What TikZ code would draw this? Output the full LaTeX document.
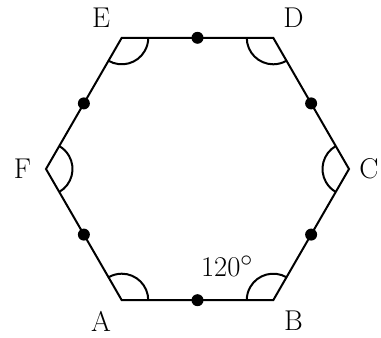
\documentclass[tikz,border=0pt]{standalone}
\usetikzlibrary{calc}
\begin{document}
\begin{tikzpicture}[x=1pt,y=1pt,line width=2pt,
  dot/.style={circle,fill=black,inner sep=0pt,minimum size=12pt},
  lbl/.style={font=\Huge,scale=1.15,inner sep=0pt}]
\useasboundingbox (0,0) rectangle (381,338);
\coordinate (A) at (121.75,37.8);
\coordinate (B) at (273.25,37.8);
\coordinate (C) at (349,169);
\coordinate (D) at (273.25,300.2);
\coordinate (E) at (121.75,300.2);
\coordinate (F) at (46,169);
\draw[line join=miter] (A)--(B)--(C)--(D)--(E)--(F)--cycle;
\draw ([shift={(0:26.5)}]A) arc[start angle=0,end angle=120,radius=26.5];
\draw ([shift={(60:26.5)}]B) arc[start angle=60,end angle=180,radius=26.5];
\draw ([shift={(120:26.5)}]C) arc[start angle=120,end angle=240,radius=26.5];
\draw ([shift={(180:26.5)}]D) arc[start angle=180,end angle=300,radius=26.5];
\draw ([shift={(240:26.5)}]E) arc[start angle=240,end angle=360,radius=26.5];
\draw ([shift={(-60:26.5)}]F) arc[start angle=-60,end angle=60,radius=26.5];
\node[dot] (mAB) at ($(A)!0.5!(B)$) {};
\node[dot] (mBC) at ($(B)!0.5!(C)$) {};
\node[dot] (mCD) at ($(C)!0.5!(D)$) {};
\node[dot] (mDE) at ($(D)!0.5!(E)$) {};
\node[dot] (mEF) at ($(E)!0.5!(F)$) {};
\node[dot] (mFA) at ($(F)!0.5!(A)$) {};
\node[lbl] (lA) at (101,17) {A};
\node[lbl] (lB) at (293.5,17) {B};
\node[lbl] (lC) at (369,169) {C};
\node[lbl] (lD) at (293.5,320) {D};
\node[lbl] (lE) at (101,320) {E};
\node[lbl] (lF) at (22.5,169) {F};
\node[lbl] (ang) at (227,72) {$120^\circ$};
\end{tikzpicture}
\end{document}
